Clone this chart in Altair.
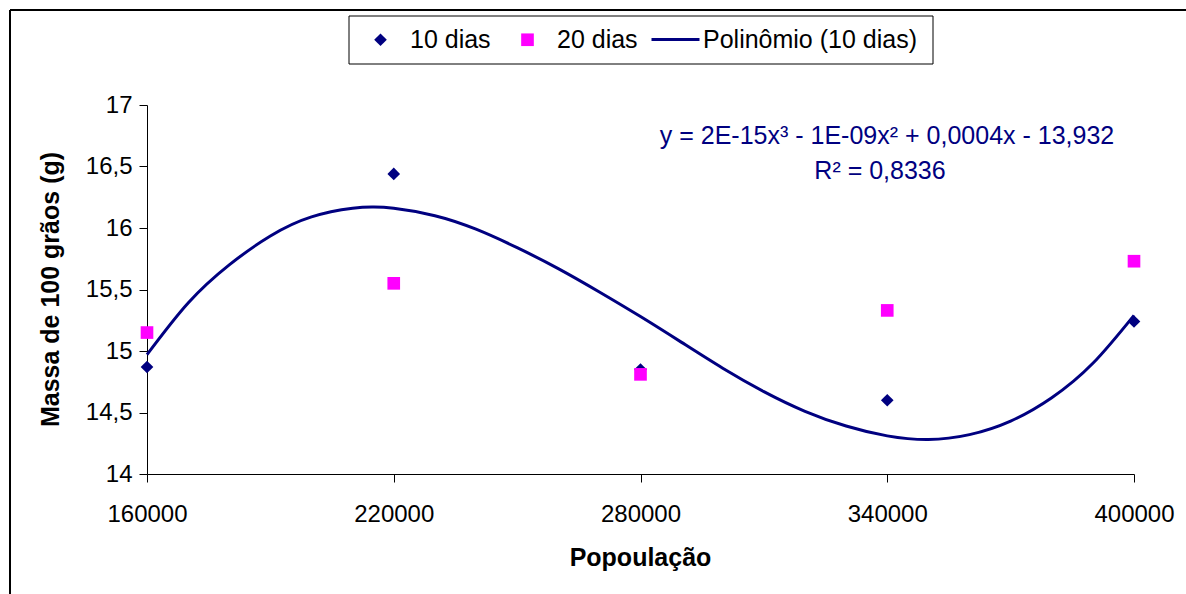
import altair as alt
import pandas as pd

# ---- data ----
POPULATION = [160000, 220000, 280000, 340000, 400000]
MASS_10_DIAS = [14.87, 16.44, 14.85, 14.60, 15.24]
MASS_20_DIAS = [15.15, 15.55, 14.81, 15.33, 15.73]

CURVE_X = [160000, 170000, 180000, 190000, 200000, 210000, 215000, 220000, 230000,
           240000, 250000, 260000, 270000, 280000, 290000, 300000, 310000, 320000,
           330000, 340000, 350000, 360000, 370000, 380000, 390000, 400000]
CURVE_Y = [14.97, 15.39, 15.70, 15.935, 16.09, 16.16, 16.17, 16.16, 16.10,
           15.99, 15.84, 15.67, 15.48, 15.28, 15.07, 14.86, 14.67, 14.51,
           14.39, 14.31, 14.28, 14.32, 14.43, 14.62, 14.90, 15.29]

POINT_SERIES = ["10 dias", "20 dias"]
POINT_COLORS = ["#000080", "#FF00FF"]
POINT_SHAPES = ["diamond", "square"]
LINE_SERIES = ["Polinômio (10 dias)"]
LINE_COLORS = ["#000080"]

X_TICKS = [160000, 220000, 280000, 340000, 400000]
Y_TICKS = [14, 14.5, 15, 15.5, 16, 16.5, 17]
X_TITLE = "Popoulação"
Y_TITLE = "Massa de 100 grãos (g)"
EQUATION = ["y = 2E-15x³ - 1E-09x² + 0,0004x - 13,932", "R² = 0,8336"]

FONT = "Liberation Sans"

# ---- tables ----
points = pd.DataFrame({
    "pop": POPULATION * 2,
    "mass": MASS_10_DIAS + MASS_20_DIAS,
    "series": [POINT_SERIES[0]] * len(POPULATION) + [POINT_SERIES[1]] * len(POPULATION),
})
curve = pd.DataFrame({"pop": CURVE_X, "mass": CURVE_Y, "series": LINE_SERIES[0]})
one = pd.DataFrame({"k": [0]})

point_legend = alt.Legend(
    orient="none", legendX=221, legendY=-78, direction="horizontal", padding=0,
    labelFont=FONT, labelFontSize=25, labelColor="black", labelLimit=400,
    symbolSize=160, symbolStrokeWidth=0, labelOffset=17, columnPadding=24,
    symbolOpacity=1,
)
line_legend = alt.Legend(
    orient="none", legendX=503, legendY=-91, direction="horizontal", padding=0,
    labelFont=FONT, labelFontSize=25, labelColor="black", labelLimit=400,
    symbolType="stroke", symbolSize=2304, symbolStrokeWidth=3, labelOffset=2,
)

x_enc = alt.X("pop:Q", scale=alt.Scale(domain=[160000, 400000], nice=False, zero=False),
              axis=alt.Axis(values=X_TICKS, format="d", title=X_TITLE, grid=False,
                            labelFont=FONT, labelFontSize=24, labelColor="black",
                            labelFlush=False, labelBaseline="middle", labelPadding=32,
                            tickSize=8, tickColor="black", domainColor="black",
                            titleFont=FONT, titleFontSize=25, titleFontWeight="bold",
                            titleColor="black", titleX=493, titleY=83,
                            titleBaseline="middle", titleAlign="center"))
y_enc = alt.Y("mass:Q", scale=alt.Scale(domain=[14, 17], nice=False, zero=False),
              axis=alt.Axis(values=Y_TICKS, title=Y_TITLE, grid=False,
                            labelExpr="replace(format(datum.value, '.1~f'), '.', ',')",
                            labelFont=FONT, labelFontSize=24, labelColor="black",
                            labelPadding=7, tickSize=8, tickColor="black",
                            domainColor="black",
                            titleFont=FONT, titleFontSize=25, titleFontWeight="bold",
                            titleColor="black", titleX=-97, titleY=184,
                            titleBaseline="middle", titleAlign="center"))

legend_box = alt.Chart(one).mark_rect(fill="white", stroke="black", strokeWidth=1).encode(
    x=alt.value(202), x2=alt.value(786), y=alt.value(-89), y2=alt.value(-41))

line_layer = alt.Chart(curve).mark_line(strokeWidth=3, interpolate="natural").encode(
    x=x_enc, y=y_enc,
    stroke=alt.Stroke("series:N", scale=alt.Scale(domain=LINE_SERIES, range=LINE_COLORS),
                      legend=line_legend, title=None),
)

point_layer = alt.Chart(points).mark_point(filled=True, size=160, opacity=1).encode(
    x="pop:Q", y="mass:Q",
    fill=alt.Fill("series:N", scale=alt.Scale(domain=POINT_SERIES, range=POINT_COLORS),
                  legend=point_legend, title=None),
    shape=alt.Shape("series:N", scale=alt.Scale(domain=POINT_SERIES, range=POINT_SHAPES),
                    legend=point_legend, title=None),
)

eq1 = alt.Chart(pd.DataFrame({"t": [EQUATION[0]]})).mark_text(
    font=FONT, fontSize=25, color="#000080", align="center", baseline="middle"
).encode(text="t:N", x=alt.value(740), y=alt.value(31))
eq2 = alt.Chart(pd.DataFrame({"t": [EQUATION[1]]})).mark_text(
    font=FONT, fontSize=25, color="#000080", align="center", baseline="middle"
).encode(text="t:N", x=alt.value(733), y=alt.value(66))

border_top = alt.Chart(one).mark_rule(color="black", strokeWidth=2).encode(
    x=alt.value(-137), x2=alt.value(1039), y=alt.value(-95))
border_left = alt.Chart(one).mark_rule(color="black", strokeWidth=2).encode(
    x=alt.value(-137), y=alt.value(-95), y2=alt.value(489))

chart = alt.layer(border_top, border_left, legend_box, line_layer, point_layer, eq1, eq2).properties(
    width=987, height=369,
    autosize=alt.AutoSizeParams(type="none"),
    padding={"left": 147, "top": 105, "right": 52, "bottom": 120},
    background="white",
).configure_view(stroke="transparent")

chart.save("out.html", embed_options={"renderer": "svg", "actions": False})
